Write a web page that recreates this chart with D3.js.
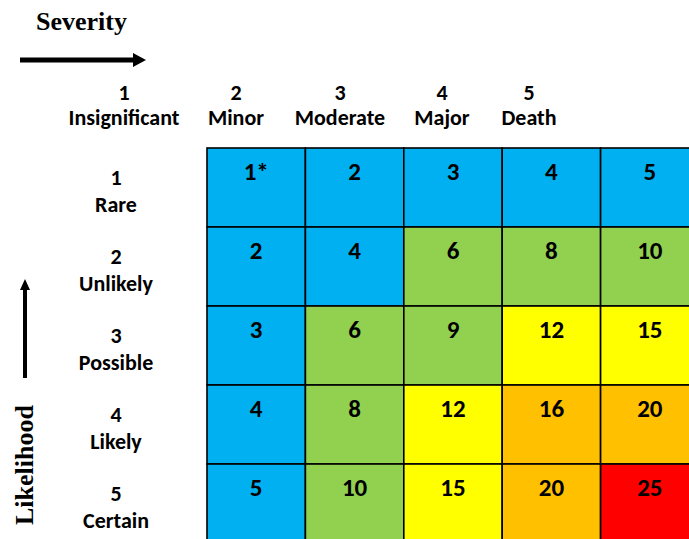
<!DOCTYPE html>
<html>
<head>
<meta charset="utf-8">
<style>
  body { margin: 0; background: #fff; }
  svg { display: block; }
</style>
</head>
<body>
<svg id="chart"></svg>
<script src="https://cdn.jsdelivr.net/npm/d3@7"></script>
<script>
// severity across the top, likelihood down the side
var severityNums = ["1", "2", "3", "4", "5"];
var severityNames = ["Insignificant", "Minor", "Moderate", "Major", "Death"];
var likelihoodNums = ["1", "2", "3", "4", "5"];
var likelihoodNames = ["Rare", "Unlikely", "Possible", "Likely", "Certain"];

// cell labels, row by row (likelihood 1..5)
var scores = [
  ["1*", "2", "3", "4", "5"],
  ["2", "4", "6", "8", "10"],
  ["3", "6", "9", "12", "15"],
  ["4", "8", "12", "16", "20"],
  ["5", "10", "15", "20", "25"]
];

var bandBreaks = [6, 12, 16, 25];
var bandColors = ["#00B0F0", "#92D050", "#FFFF00", "#FFC000", "#FF0000"];

var width = 689, height = 539;
var svg = d3.select("#chart").attr("width", width).attr("height", height);

var gridLeft = 207, gridTop = 148, cellW = 98.4, cellH = 79;

var x = d3.scaleBand().domain(d3.range(5)).range([gridLeft, gridLeft + 5 * cellW]);
var y = d3.scaleBand().domain(d3.range(5)).range([gridTop, gridTop + 5 * cellH]);
var color = d3.scaleThreshold().domain(bandBreaks).range(bandColors);

var cells = [];
scores.forEach(function(row, r) {
  row.forEach(function(s, c) {
    cells.push({ r: r, c: c, label: s, v: parseInt(s, 10) });
  });
});

var sans = "Calibri, Carlito, 'Open Sans', sans-serif";
var serif = "'Times New Roman', 'Liberation Serif', serif";

var g = svg.append("g");
g.selectAll("rect.cell")
  .data(cells)
  .enter().append("rect")
  .attr("class", "cell")
  .attr("x", function(d) { return x(d.c); })
  .attr("y", function(d) { return y(d.r); })
  .attr("width", x.bandwidth())
  .attr("height", y.bandwidth())
  .attr("fill", function(d) { return color(d.v); })
  .attr("stroke", "#000")
  .attr("stroke-width", 1.6);

g.selectAll("text.score")
  .data(cells)
  .enter().append("text")
  .attr("class", "score")
  .attr("x", function(d) { return x(d.c) + x.bandwidth() / 2; })
  .attr("y", function(d) { return y(d.r) + 32; })
  .attr("text-anchor", "middle")
  .attr("font-family", sans)
  .attr("font-weight", "bold")
  .attr("font-size", 25)
  .attr("fill", "#000")
  .text(function(d) { return d.label; });

// column headers sit half a column to the left of the grid
var headX = [124, 236, 340, 442, 529];
var heads = svg.append("g").attr("font-family", sans).attr("font-weight", "bold")
  .attr("font-size", 22).attr("text-anchor", "middle");
severityNums.forEach(function(n, i) {
  heads.append("text").attr("x", headX[i]).attr("y", 100).text(n);
  heads.append("text").attr("x", headX[i]).attr("y", 125).text(severityNames[i]);
});

var rows = svg.append("g").attr("font-family", sans).attr("font-weight", "bold")
  .attr("font-size", 22).attr("text-anchor", "middle");
likelihoodNums.forEach(function(n, i) {
  rows.append("text").attr("x", 116).attr("y", y(i) + 37).text(n);
  rows.append("text").attr("x", 116).attr("y", y(i) + 64).text(likelihoodNames[i]);
});

// axis titles + arrows
svg.append("text")
  .attr("x", 36).attr("y", 30)
  .attr("font-family", serif).attr("font-weight", "bold").attr("font-size", 26)
  .text("Severity");

svg.append("line").attr("x1", 20).attr("y1", 60).attr("x2", 134).attr("y2", 60)
  .attr("stroke", "#000").attr("stroke-width", 5);
svg.append("path").attr("d", "M133,53 L146,60 L133,67 Z").attr("fill", "#000");

svg.append("line").attr("x1", 25).attr("y1", 378).attr("x2", 25).attr("y2", 288)
  .attr("stroke", "#000").attr("stroke-width", 4);
svg.append("path").attr("d", "M20,290 L25,279 L30,290 Z").attr("fill", "#000");

svg.append("text")
  .attr("transform", "translate(33,465) rotate(-90)")
  .attr("text-anchor", "middle")
  .attr("font-family", serif).attr("font-weight", "bold").attr("font-size", 26)
  .text("Likelihood");
</script>
</body>
</html>
